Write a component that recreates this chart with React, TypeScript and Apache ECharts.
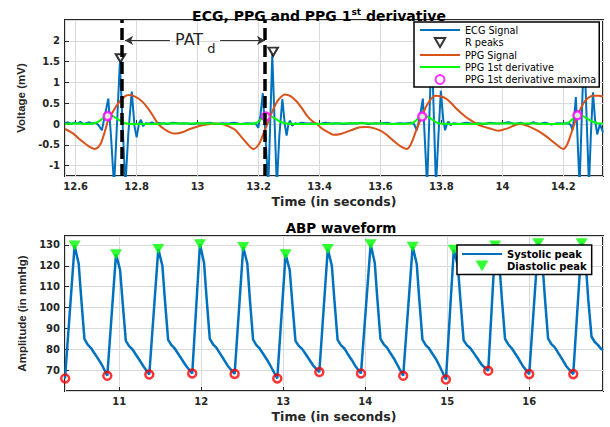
import React, { useEffect, useRef } from "react";
import * as echarts from "echarts";

// ---------- Top panel: ECG, PPG and PPG 1st derivative ----------
const ecgSignal: [number, number][] = [
  [12.565, 0.02], [12.575, 0.04], [12.585, 0.0], [12.595, 0.03], [12.605, 0.01], [12.615, 0.05],
  [12.625, 0.0], [12.635, 0.02], [12.645, 0.04], [12.655, 0.01], [12.665, 0.03], [12.674, -0.02],
  [12.686, -0.15], [12.697, 0.25], [12.707, 0.61], [12.716, -0.3], [12.726, -1.5], [12.745, 1.48],
  [12.763, -1.5], [12.773, -0.2], [12.784, 0.78], [12.793, -0.05], [12.8, -0.32], [12.808, 0.02],
  [12.814, 0.1], [12.821, -0.05], [12.83, 0.02], [12.84, 0.01], [12.85, 0.04], [12.86, 0.0],
  [12.87, 0.03], [12.88, 0.01], [12.89, 0.02], [12.9, 0.0], [12.92, 0.03], [12.94, 0.01],
  [12.96, 0.02], [12.98, 0.0], [13.0, 0.02], [13.02, 0.01], [13.04, 0.03], [13.06, 0.0],
  [13.08, 0.02], [13.1, 0.01], [13.12, 0.03], [13.14, 0.0], [13.16, 0.02], [13.18, 0.01],
  [13.19, 0.02], [13.199, -0.09], [13.206, 0.2], [13.214, 0.74], [13.222, -0.2], [13.232, -1.5],
  [13.245, 1.67], [13.26, -1.5], [13.268, -0.3], [13.278, 0.6], [13.286, 0.0], [13.292, -0.28],
  [13.298, 0.0], [13.303, 0.08], [13.31, -0.04], [13.32, 0.02], [13.33, 0.0], [13.34, 0.03],
  [13.36, 0.01], [13.38, 0.02], [13.4, 0.0], [13.42, 0.03], [13.44, 0.01], [13.46, 0.02],
  [13.48, 0.0], [13.5, 0.02], [13.52, 0.01], [13.54, 0.03], [13.56, 0.0], [13.58, 0.02],
  [13.6, 0.01], [13.62, 0.03], [13.64, 0.0], [13.66, 0.02], [13.68, 0.01], [13.7, 0.03],
  [13.71, 0.0], [13.719, -0.15], [13.73, 0.2], [13.739, 0.61], [13.753, -1.5], [13.768, 1.9],
  [13.782, -1.5], [13.79, -0.3], [13.798, 0.8], [13.806, 0.1], [13.812, -0.15], [13.818, 0.0],
  [13.823, 0.06], [13.83, -0.03], [13.84, 0.02], [13.86, 0.0], [13.88, 0.03], [13.9, 0.01],
  [13.92, 0.02], [13.94, 0.0], [13.96, 0.03], [13.98, 0.01], [14.0, 0.02], [14.02, 0.04],
  [14.04, 0.0], [14.06, 0.03], [14.08, -0.02], [14.1, 0.04], [14.12, 0.0], [14.14, 0.03],
  [14.16, -0.01], [14.18, 0.02], [14.2, 0.01], [14.215, 0.02], [14.224, -0.02], [14.23, -0.15],
  [14.236, 0.2], [14.241, 0.65], [14.253, -1.5], [14.268, 1.9], [14.284, -1.5], [14.29, -0.3],
  [14.297, 0.76], [14.304, 0.1], [14.311, -0.25], [14.32, 0.0], [14.33, -0.2],
];

const rPeaks: [number, number][] = [
  [12.747, 1.58], [13.248, 1.74], [13.768, 1.98], [14.268, 1.98],
];

const ppgSignal: [number, number][] = [
  [12.565, -0.12], [12.59, -0.22], [12.615, -0.38], [12.64, -0.52], [12.663, -0.6], [12.68, -0.5],
  [12.695, -0.2], [12.707, 0.1], [12.725, 0.33], [12.74, 0.5], [12.757, 0.64], [12.773, 0.695],
  [12.795, 0.66], [12.817, 0.55], [12.838, 0.37], [12.855, 0.18], [12.871, 0.0], [12.89, -0.12],
  [12.909, -0.2], [12.926, -0.23], [12.95, -0.2], [12.975, -0.12], [13.0, -0.06], [13.03, -0.01],
  [13.057, 0.01], [13.08, 0.0], [13.1, -0.05], [13.123, -0.14], [13.14, -0.28], [13.16, -0.45],
  [13.183, -0.6], [13.2, -0.5], [13.215, -0.25], [13.227, -0.04], [13.248, 0.35], [13.265, 0.58],
  [13.287, 0.71], [13.305, 0.67], [13.325, 0.54], [13.34, 0.4], [13.358, 0.21], [13.375, 0.08],
  [13.391, 0.0], [13.41, -0.12], [13.429, -0.2], [13.445, -0.26], [13.47, -0.24], [13.5, -0.16],
  [13.533, -0.08], [13.555, -0.07], [13.578, -0.1], [13.6, -0.16], [13.62, -0.26], [13.642, -0.4],
  [13.665, -0.53], [13.686, -0.6], [13.7, -0.48], [13.719, -0.12], [13.735, 0.16], [13.752, 0.45],
  [13.779, 0.68], [13.8, 0.66], [13.817, 0.6], [13.835, 0.48], [13.85, 0.36], [13.875, 0.2],
  [13.894, 0.1], [13.916, 0.0], [13.94, -0.07], [13.96, -0.11], [13.987, -0.16], [14.005, -0.13],
  [14.025, -0.08], [14.04, -0.03], [14.058, 0.0], [14.08, -0.04], [14.102, -0.11], [14.125, -0.2],
  [14.146, -0.31], [14.17, -0.45], [14.2, -0.6], [14.212, -0.5], [14.225, -0.24], [14.246, 0.2],
  [14.266, 0.5], [14.282, 0.63], [14.298, 0.68], [14.315, 0.68], [14.33, 0.66],
];

const ppgDerivative: [number, number][] = [
  [12.565, 0.0], [12.6, 0.01], [12.64, 0.0], [12.658, 0.01], [12.675, 0.06], [12.69, 0.14],
  [12.705, 0.19], [12.72, 0.19], [12.735, 0.13], [12.75, 0.06], [12.767, 0.01], [12.8, 0.0],
  [12.85, 0.0], [12.9, 0.01], [12.95, 0.01], [13.0, 0.02], [13.05, 0.01], [13.1, 0.0],
  [13.15, 0.0], [13.187, 0.01], [13.2, 0.06], [13.212, 0.14], [13.224, 0.18], [13.24, 0.18],
  [13.255, 0.13], [13.27, 0.06], [13.292, 0.01], [13.35, 0.0], [13.4, 0.0], [13.45, 0.01],
  [13.5, 0.02], [13.55, 0.02], [13.6, 0.01], [13.65, 0.0], [13.7, 0.01], [13.712, 0.06],
  [13.725, 0.14], [13.737, 0.18], [13.752, 0.18], [13.767, 0.12], [13.78, 0.05], [13.795, 0.01],
  [13.85, 0.0], [13.9, 0.0], [13.95, 0.01], [14.0, 0.01], [14.05, 0.01], [14.1, 0.01],
  [14.15, 0.0], [14.211, 0.01], [14.223, 0.07], [14.235, 0.15], [14.246, 0.21], [14.262, 0.2],
  [14.278, 0.13], [14.295, 0.06], [14.31, 0.02], [14.33, 0.01],
];

const ppgDerivativeMaxima: [number, number][] = [
  [12.705, 0.19], [13.224, 0.18], [13.737, 0.18], [14.246, 0.21],
];

// PAT_d annotation (data coordinates)
const patMarkers = [12.747, 13.224];
const patArrowY = 2.01;
const patArrowLeft = [12.909, 12.762];
const patArrowRight = [13.074, 13.221];
const patText: [number, number] = [12.972, 2.02];
const patSub: [number, number] = [13.045, 1.82];

// ---------- Bottom panel: ABP waveform ----------
const abpWaveform: [number, number][] = [
  [10.338, 66.0], [10.455, 129.7], [10.505, 121], [10.535, 105], [10.575, 85], [10.615, 82.2], [10.655, 80.6], [10.695, 78.2], [10.745, 75.3], [10.795, 72],
  [10.854, 67.3], [10.96, 125.5], [11.01, 118], [11.04, 103], [11.08, 84], [11.12, 81.5], [11.16, 80], [11.2, 77.6], [11.25, 74.6], [11.3, 71.5],
  [11.366, 67.9], [11.476, 128.1], [11.526, 120], [11.556, 104], [11.596, 84.5], [11.636, 82], [11.676, 80.4], [11.716, 78], [11.766, 75], [11.816, 72],
  [11.89, 68.4], [11.984, 130.3], [12.034, 121.5], [12.064, 105], [12.104, 85], [12.144, 82.4], [12.184, 80.8], [12.224, 78.3], [12.274, 75.2], [12.324, 72],
  [12.407, 68.2], [12.512, 129.0], [12.562, 121], [12.592, 104.5], [12.632, 84.6], [12.672, 82], [12.712, 80.4], [12.752, 78], [12.802, 75], [12.852, 71.5],
  [12.927, 66.0], [13.029, 125.5], [13.079, 118], [13.109, 103], [13.149, 84], [13.189, 81.6], [13.229, 80.2], [13.269, 78], [13.319, 75], [13.369, 72],
  [13.44, 69.1], [13.543, 128.1], [13.593, 120], [13.623, 104], [13.663, 84.5], [13.703, 82], [13.743, 80.5], [13.783, 78], [13.833, 75], [13.883, 71.8],
  [13.948, 68.4], [14.066, 130.3], [14.116, 121.5], [14.146, 105], [14.186, 85], [14.226, 82.4], [14.266, 80.8], [14.306, 78.2], [14.356, 75.2], [14.406, 71.5],
  [14.463, 67.3], [14.578, 129.2], [14.628, 121], [14.658, 104.5], [14.698, 84.6], [14.738, 82], [14.778, 80.4], [14.818, 78], [14.868, 75], [14.918, 71],
  [14.984, 65.5], [15.08, 127.7], [15.13, 120], [15.16, 104], [15.2, 84.3], [15.24, 82], [15.28, 80.6], [15.32, 78.4], [15.37, 75.6], [15.42, 72.6],
  [15.5, 69.7], [15.585, 129.8], [15.635, 121.3], [15.665, 105], [15.705, 85], [15.745, 82.3], [15.785, 80.6], [15.825, 78.2], [15.875, 75.2], [15.925, 71.8],
  [16.0, 68.1], [16.11, 130.8], [16.16, 122], [16.19, 105.5], [16.23, 85.2], [16.27, 82.5], [16.31, 81], [16.35, 78.5], [16.4, 75.4], [16.45, 72],
  [16.537, 68.1], [16.64, 130.8], [16.69, 121], [16.72, 104], [16.76, 86], [16.8, 83.5], [16.84, 82], [16.87, 80.5], [16.9, 79.5],
];

const abpPeaks: [number, number][] = [
  [10.455, 129.7], [10.96, 125.5], [11.476, 128.1], [11.984, 130.3], [12.512, 129.0], [13.029, 125.5], [13.543, 128.1],
  [14.066, 130.3], [14.578, 129.2], [15.08, 127.7], [15.585, 129.8], [16.11, 130.8], [16.64, 130.8],
];

const abpTroughs: [number, number][] = [
  [10.34, 66.0], [10.854, 67.3], [11.366, 67.9], [11.89, 68.4], [12.407, 68.2], [12.927, 66.0], [13.44, 69.1],
  [13.948, 68.4], [14.463, 67.3], [14.984, 65.5], [15.5, 69.7], [16.0, 68.1], [16.537, 68.1],
];

const topLegend = ["ECG Signal", "R peaks", "PPG Signal", "PPG 1st derivative", "PPG 1st derivative maxima"];
const bottomLegend = ["Systolic peak", "Diastolic peak"];
const lineLegendNames = ["ECG Signal", "PPG Signal", "PPG 1st derivative", "Systolic peak"];

const TRI_DOWN = "path://M0,0L10,0L5,8.66Z";
const LINE_ICON = "path://M0,0L40,0L40,2L0,2Z";
const FONT = "DejaVu Sans";
const INK = "#262626";

const legendItems = (names: string[]) =>
  names.map((n) => (lineLegendNames.includes(n) ? { name: n, icon: LINE_ICON } : { name: n }));

export default function App() {
  const ref = useRef<HTMLDivElement>(null);

  useEffect(() => {
    if (!ref.current) return;
    const chart = echarts.init(ref.current, null, { renderer: "svg" });

    const tickLabel = {
      fontFamily: FONT, fontWeight: "bold", fontSize: 10, color: INK, margin: 5,
      showMinLabel: false, showMaxLabel: false,
    };
    const split = { show: true, lineStyle: { color: "#dadada", width: 1 } };
    const tick = { show: true, inside: true, length: 4, lineStyle: { color: INK, width: 1 } };
    const xName = { fontFamily: FONT, fontWeight: "bold", fontSize: 12.5, color: INK };
    const yName = { fontFamily: "Liberation Sans", fontWeight: "bold", fontSize: 11.5, color: INK };

    const option: any = {
      animation: false,
      backgroundColor: "#fff",
      title: [
        {
          text: "{a|ECG, PPG and PPG 1}{b|st}{a| derivative}",
          left: 314, top: 2, textAlign: "center",
          textStyle: {
            rich: {
              a: { fontFamily: FONT, fontWeight: "bold", fontSize: 14, color: "#000" },
              b: { fontFamily: FONT, fontWeight: "bold", fontSize: 9, color: "#000", padding: [0, 0, 8, 0] },
            },
          },
        },
        {
          text: "ABP waveform", left: 336, top: 216, textAlign: "center",
          textStyle: { fontFamily: FONT, fontWeight: "bold", fontSize: 13.5, color: "#000" },
        },
      ],
      legend: [
        {
          data: legendItems(topLegend), orient: "vertical", left: 414, top: 22, z: 20,
          padding: [3, 3, 2, 6], itemWidth: 40, itemHeight: 9, itemGap: 2,
          backgroundColor: "#fff", borderColor: "#000", borderWidth: 1.5,
          selectedMode: false,
          textStyle: { fontFamily: FONT, fontSize: 9.7, color: "#000" },
        },
        {
          data: legendItems(bottomLegend), orient: "vertical", left: 457, top: 245, z: 20,
          padding: [4, 5, 3, 5], itemWidth: 40, itemHeight: 11, itemGap: 1.5,
          backgroundColor: "#fff", borderColor: "#000", borderWidth: 1.5,
          selectedMode: false,
          textStyle: { fontFamily: FONT, fontWeight: "bold", fontSize: 10, color: "#000" },
        },
      ],
      grid: [
        { left: 65, top: 20, width: 538, height: 156, show: true, borderColor: INK, borderWidth: 2, backgroundColor: "#fff", containLabel: false, outerBoundsMode: "none" },
        { left: 65, top: 236, width: 538, height: 155, show: true, borderColor: INK, borderWidth: 2, backgroundColor: "#fff", containLabel: false, outerBoundsMode: "none" },
      ],
      xAxis: [
        {
          type: "value", gridIndex: 0, min: 12.565, max: 14.33, splitNumber: 9,
          axisLabel: tickLabel, axisLine: { show: false }, axisTick: tick, splitLine: split,
          name: "Time (in seconds)", nameLocation: "middle", nameGap: 19, nameTextStyle: xName,
        },
        {
          type: "value", gridIndex: 1, min: 10.338, max: 16.9, splitNumber: 6,
          axisLabel: tickLabel, axisLine: { show: false }, axisTick: tick, splitLine: split,
          name: "Time (in seconds)", nameLocation: "middle", nameGap: 19, nameTextStyle: xName,
        },
      ],
      yAxis: [
        {
          type: "value", gridIndex: 0, min: -1.25, max: 2.5, splitNumber: 7,
          axisLabel: tickLabel, axisLine: { show: false }, axisTick: tick, splitLine: split,
          name: "Voltage (mV)", nameLocation: "middle", nameGap: 33, nameTextStyle: yName,
        },
        {
          type: "value", gridIndex: 1, min: 60, max: 134.3, splitNumber: 7,
          axisLabel: tickLabel, axisLine: { show: false }, axisTick: tick, splitLine: split,
          name: "Amplitude (in mmHg)", nameLocation: "middle", nameGap: 32, nameTextStyle: yName,
        },
      ],
      series: [
        {
          name: "ECG Signal", type: "line", xAxisIndex: 0, yAxisIndex: 0, data: ecgSignal,
          symbol: "none", clip: true, z: 2,
          lineStyle: { color: "#0072BD", width: 2 }, itemStyle: { color: "#0072BD" },
        },
        {
          name: "R peaks", type: "scatter", xAxisIndex: 0, yAxisIndex: 0, data: rPeaks,
          symbol: TRI_DOWN, symbolSize: [9.5, 8], z: 3,
          itemStyle: { color: "#fff", borderColor: "#000", borderWidth: 2 },
        },
        {
          name: "PPG Signal", type: "line", xAxisIndex: 0, yAxisIndex: 0, data: ppgSignal,
          symbol: "none", smooth: 0.3, z: 2,
          lineStyle: { color: "#D95319", width: 2 }, itemStyle: { color: "#D95319" },
        },
        {
          name: "PPG 1st derivative", type: "line", xAxisIndex: 0, yAxisIndex: 0, data: ppgDerivative,
          symbol: "none", smooth: 0.3, z: 2,
          lineStyle: { color: "#00FF00", width: 2 }, itemStyle: { color: "#00FF00" },
        },
        {
          name: "PPG 1st derivative maxima", type: "scatter", xAxisIndex: 0, yAxisIndex: 0,
          data: ppgDerivativeMaxima, symbol: "circle", symbolSize: 8, z: 3,
          itemStyle: { color: "#fff", borderColor: "#FF00FF", borderWidth: 2.5 },
        },
        {
          name: "PAT lines", type: "line", xAxisIndex: 0, yAxisIndex: 0, data: [], z: 3,
          markLine: {
            silent: true, symbol: ["none", "none"], label: { show: false }, animation: false,
            lineStyle: { color: "#000", width: 3.5, type: [12, 5] },
            data: patMarkers.map((x) => ({ xAxis: x })),
          },
        },
        {
          name: "PAT arrow", type: "line", xAxisIndex: 0, yAxisIndex: 0, data: [], z: 3,
          markLine: {
            silent: true, symbol: ["none", "arrow"], symbolSize: [7, 8], label: { show: false }, animation: false,
            lineStyle: { color: "#333", width: 1, type: "solid" },
            data: [
              [{ coord: [patArrowLeft[0], patArrowY] }, { coord: [patArrowLeft[1], patArrowY] }],
              [{ coord: [patArrowRight[0], patArrowY] }, { coord: [patArrowRight[1], patArrowY] }],
            ],
          },
          markPoint: {
            silent: true, symbol: "circle", symbolSize: 1, animation: false,
            itemStyle: { color: "rgba(0,0,0,0)" },
            data: [
              { coord: patText, label: { show: true, position: "inside", formatter: "PAT", fontFamily: FONT, fontSize: 16, color: INK } },
              { coord: patSub, label: { show: true, position: "inside", formatter: "d", fontFamily: FONT, fontSize: 13, color: INK } },
            ],
          },
        },
        {
          name: "Systolic peak", type: "line", xAxisIndex: 1, yAxisIndex: 1, data: abpWaveform,
          symbol: "none", z: 2,
          lineStyle: { color: "#0072BD", width: 2.5 }, itemStyle: { color: "#0072BD" },
        },
        {
          name: "Diastolic peak", type: "scatter", xAxisIndex: 1, yAxisIndex: 1, data: abpPeaks,
          symbol: TRI_DOWN, symbolSize: [12, 10], z: 3,
          itemStyle: { color: "#00FF00" },
        },
        {
          name: "Troughs", type: "scatter", xAxisIndex: 1, yAxisIndex: 1, data: abpTroughs,
          symbol: "circle", symbolSize: 8, z: 3,
          itemStyle: { color: "rgba(255,255,255,0)", borderColor: "#FF0000", borderWidth: 2.5 },
        },
      ],
    };

    chart.setOption(option);
    return () => chart.dispose();
  }, []);

  return (
    <div
      ref={ref}
      style={{ position: "fixed", left: 0, top: 0, width: 610, height: 427, background: "#fff" }}
    />
  );
}
